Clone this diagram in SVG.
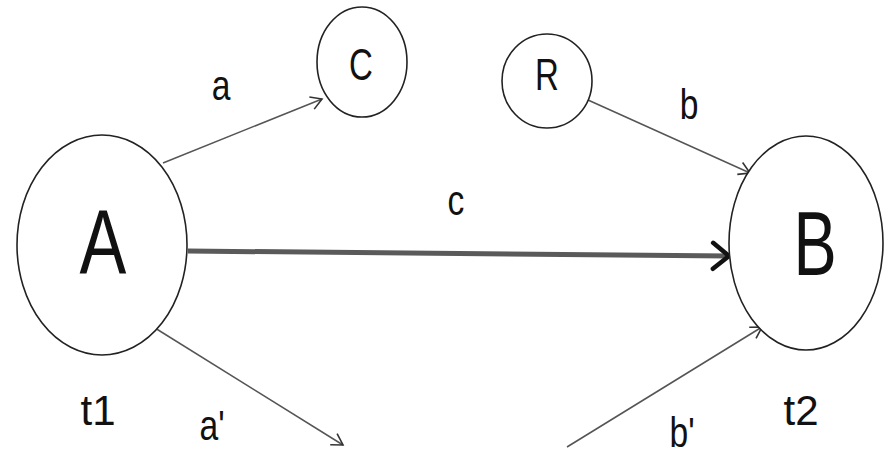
<svg xmlns="http://www.w3.org/2000/svg" width="884" height="458" viewBox="0 0 884 458">
  <style>
    .node { fill: #ffffff; stroke: #222222; stroke-width: 1.6; }
    .edge { fill: none; stroke: #555555; stroke-width: 1.5; }
    .main { fill: none; stroke: #5a5a5a; stroke-width: 5; }
    text { font-family: "Liberation Sans", Arial, sans-serif; fill: #111111; text-anchor: middle; }
    .big { font-size: 90px; }
    .mid { font-size: 44px; }
    .lbl { font-size: 42px; }
  </style>
  <defs>
    <marker id="open" markerUnits="userSpaceOnUse" markerWidth="16" markerHeight="16" viewBox="0 0 16 16" refX="13" refY="8" orient="auto">
      <path d="M2,1.5 L13,8 L2,14.5" fill="none" stroke="#333333" stroke-width="1.6"/>
    </marker>
    <marker id="bold" markerUnits="userSpaceOnUse" markerWidth="24" markerHeight="32" viewBox="0 0 24 32" refX="20" refY="16" orient="auto">
      <path d="M4,3 L20,16 L4,29" fill="none" stroke="#111111" stroke-width="4.5" stroke-linecap="round" stroke-linejoin="round"/>
    </marker>
  </defs>

  <g id="connectors">
    <line class="edge" x1="163" y1="163" x2="322" y2="99" marker-end="url(#open)"/>
    <line class="edge" x1="588" y1="100" x2="750" y2="173" marker-end="url(#open)"/>
    <line class="main" x1="188" y1="251" x2="729" y2="256" marker-end="url(#bold)"/>
    <line class="edge" x1="155" y1="328" x2="343" y2="445" marker-end="url(#open)"/>
    <line class="edge" x1="567" y1="447" x2="762" y2="327" marker-end="url(#open)"/>
  </g>

  <!-- letters are condensed horizontally with a scale transform -->
  <g id="node-A">
    <ellipse class="node" cx="102" cy="245" rx="85" ry="110"/>
    <text class="big" transform="translate(103 273) scale(0.78 1)">A</text>
  </g>
  <g id="node-B">
    <ellipse class="node" cx="806" cy="243" rx="77" ry="107"/>
    <text class="big" transform="translate(815 275) scale(0.72 1)">B</text>
  </g>
  <g id="node-C">
    <ellipse class="node" cx="362" cy="62" rx="45" ry="55"/>
    <text class="mid" transform="translate(361 80) scale(0.75 1)">C</text>
  </g>
  <g id="node-R">
    <ellipse class="node" cx="547" cy="81" rx="45" ry="47"/>
    <text class="mid" transform="translate(547 90) scale(0.75 1)">R</text>
  </g>

  <g id="labels">
    <text class="lbl" transform="translate(221 100) scale(0.8 1)">a</text>
    <text class="lbl" transform="translate(689 119) scale(0.8 1)">b</text>
    <text class="lbl" transform="translate(456 215) scale(0.8 1)">c</text>
    <text class="lbl" transform="translate(212 440) scale(0.8 1)">a'</text>
    <text class="lbl" transform="translate(682 447) scale(0.8 1)">b'</text>
    <text class="lbl" transform="translate(98 425)">t1</text>
    <text class="lbl" transform="translate(801 425)">t2</text>
  </g>
</svg>
